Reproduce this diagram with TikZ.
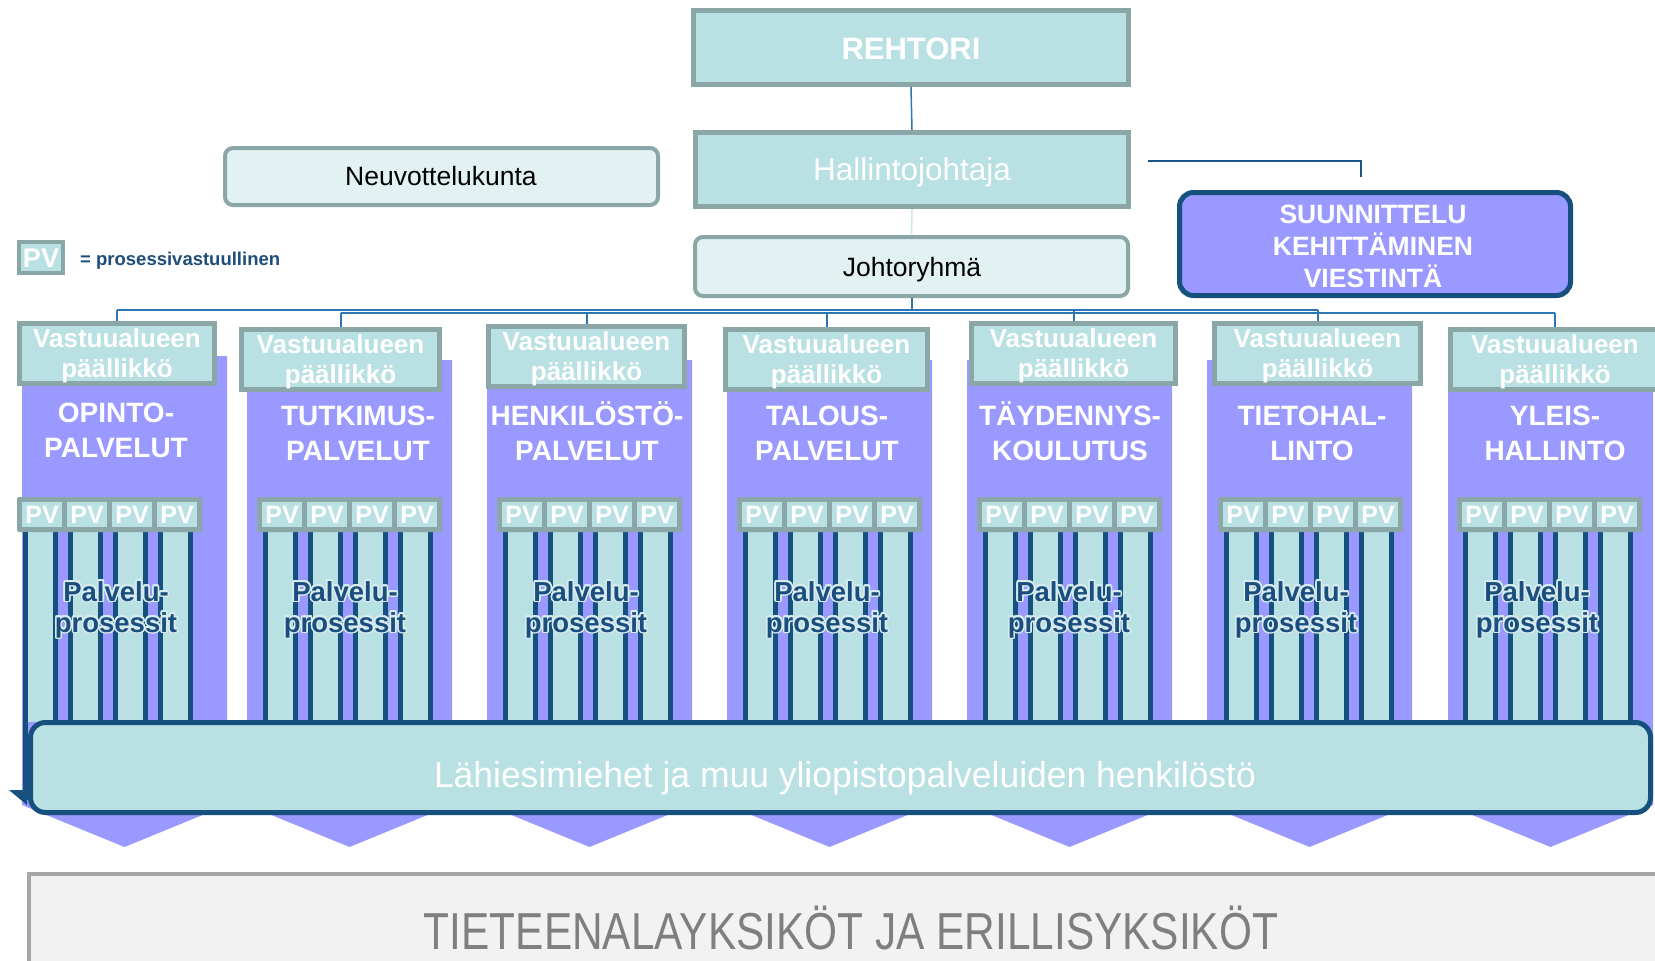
\documentclass[tikz,border=0pt]{standalone}
\usepackage{fontspec}
\usepackage[copies]{contour}
\setmainfont{Liberation Sans}
\definecolor{tealf}{HTML}{B9E0E3}
\definecolor{greyt}{HTML}{8AA6A7}
\definecolor{lightf}{HTML}{E2F2F2}
\definecolor{purp}{HTML}{9999FF}
\definecolor{dblue}{HTML}{16507F}
\definecolor{busb}{HTML}{2E75B6}
\definecolor{legb}{HTML}{1F4E79}
\definecolor{txtb}{HTML}{1B4E7E}
\definecolor{glowc}{HTML}{D6ECEE}
\definecolor{unitf}{HTML}{F2F2F2}
\definecolor{unitd}{HTML}{A6A6A6}
\definecolor{unitt}{HTML}{7F7F7F}
\contourlength{1.6pt}
\contournumber{16}
\newcommand\fsz[1]{\fontsize{#1}{#1}\selectfont}
\begin{document}
\begin{tikzpicture}[x=1pt,y=-1pt,
  tealbox/.style={draw=greyt, fill=tealf, line width=5pt, inner sep=0pt},
  lightbox/.style={draw=greyt, fill=lightf, line width=4pt, rounded corners=8pt, inner sep=0pt},
  txt/.style={anchor=base, inner sep=0pt},
  bus/.style={draw=busb, line width=2pt},
  pvcell/.style={fill=tealf, minimum width=40pt, minimum height=25pt, inner sep=0pt, text=white, font=\fsz{25}\bfseries},
  proc/.style={anchor=base, inner sep=0pt, text=txtb, font=\fsz{27.5}\bfseries}
]
\clip (0,0) rectangle (1655,961);
\fill[white] (0,0) rectangle (1655,961);

% ---------- top boxes ----------
\node[tealbox, minimum width=435pt, minimum height=74pt] (rehtori) at (911,47.5) {};
\node[txt, text=white, font=\fsz{31}\bfseries] (rehtoriT) at (911,59) {REHTORI};
\node[tealbox, minimum width=433pt, minimum height=74pt] (hj) at (912,169.5) {};
\node[txt, text=white, font=\fsz{31.5}] (hjT) at (912,180) {Hallintojohtaja};
\node[lightbox, minimum width=433pt, minimum height=57pt] (neuv) at (441.5,176.5) {};
\node[txt, text=black, font=\fsz{26.5}] (neuvT) at (441,185) {Neuvottelukunta};
\node[lightbox, minimum width=433pt, minimum height=59pt] (jr) at (911.5,266.5) {};
\node[txt, text=black, font=\fsz{26.5}] (jrT) at (912,276) {Johtoryhmä};
\node[draw=dblue, fill=purp, line width=5pt, rounded corners=14pt, minimum width=391pt, minimum height=103pt, inner sep=0pt] (suun) at (1375,244) {};
\node[txt, text=white, font=\fsz{26.5}\bfseries] (suun1) at (1373,223) {SUUNNITTELU};
\node[txt, text=white, font=\fsz{26.5}\bfseries] (suun2) at (1373,255) {KEHITTÄMINEN};
\node[txt, text=white, font=\fsz{26.5}\bfseries] (suun3) at (1373,287) {VIESTINTÄ};

% legend
\node[tealbox, line width=4pt, minimum width=44pt, minimum height=31pt] (pvl) at (41,257.5) {};
\node[txt, text=white, font=\fsz{27}\bfseries] (pvlT) at (41,267) {PV};
\node[anchor=base west, inner sep=0pt, text=legb, font=\fsz{18.5}\bfseries] (legT) at (80,265) {= prosessivastuullinen};

% connectors at top
\draw[busb, line width=1.5pt] (rehtori.south) -- (hj.north);
\draw[draw=tealf!70!white, line width=1.5pt] (hj.south) -- (jr.north);
\coordinate (s1) at (1148,161);
\coordinate (s2) at (1361,177);
\draw[dblue!85!busb, line width=2pt] (s1) -| (s2);

% ---------- columns ----------
\foreach \i/\L/\pt/\ha/\hb/\hy/\tx/\tby/\S/\px/\ta/\tb in {
 1/22/356/17/217/321/116/422/17/116/OPINTO-/PALVELUT,
 2/247/360/239/442/327/358/425/257/345/TUTKIMUS-/PALVELUT,
 3/487/360/486/687/324/587/425/497/586/HENKILÖSTÖ-/PALVELUT,
 4/727/360/723/930/327/827/425/737/827/TALOUS-/PALVELUT,
 5/967/360/969/1178/321/1070/425/977/1069/TÄYDENNYS-/KOULUTUS,
 6/1207/360/1212/1423/321/1312/425/1218/1296/TIETOHAL-/LINTO,
 7/1448/360/1448/1662/327/1555/425/1457/1537/YLEIS-/HALLINTO}
{
  % purple column with arrow end
  \fill[purp] (\L,\pt) -- ({\L+205},\pt) -- ({\L+205},805) -- ({\L+102.5},847) -- (\L,805) -- cycle;
  % process bars
  \foreach \j in {0,1,2,3} {
    \fill[tealf] ({\S+6+45*\j},532) rectangle ({\S+41+45*\j},722);
    \draw[dblue, line width=4.5pt] ({\S+8.5+45*\j},532) -- ({\S+8.5+45*\j},722);
    \draw[dblue, line width=4.5pt] ({\S+38.5+45*\j},532) -- ({\S+38.5+45*\j},722);
  }
  % PV strip
  \fill[greyt, rounded corners=2pt] (\S,497) rectangle ({\S+185},532);
  \foreach \j in {0,1,2,3} {
    \node[pvcell] (pv\i-\j) at ({\S+25+45*\j},514.5) {PV};
  }
  % header box
  \node[tealbox, minimum width={\hb-\ha-5}, minimum height=60pt] (h\i) at ({(\ha+\hb)/2},{\hy+32.5}) {};
  \node[txt, text=white, font=\fsz{26}\bfseries] (hA\i) at ({(\ha+\hb)/2},{\hy+26}) {Vastuualueen};
  \node[txt, text=white, font=\fsz{26}\bfseries] (hB\i) at ({(\ha+\hb)/2},{\hy+56}) {päällikkö};
  % title
  \node[txt, text=white, font=\fsz{28}\bfseries] (tA\i) at (\tx,\tby) {\ta};
  \node[txt, text=white, font=\fsz{28}\bfseries] (tB\i) at (\tx,{\tby+35}) {\tb};
  % Palvelu-prosessit with light halo
  \node[proc] (pA\i) at (\px,601) {\contour{glowc}{Palvelu-}};
  \node[proc] (pB\i) at (\px,632) {\contour{glowc}{prosessit}};
}

% ---------- bus lines ----------
\coordinate (jb) at (911.5,310);
\coordinate (b1) at (117,310);
\coordinate (b5) at (1073.5,310);
\coordinate (b6) at (1317.5,310);
\coordinate (c2) at (340.5,313);
\coordinate (c3) at (586.5,313);
\coordinate (c4) at (826.5,313);
\coordinate (c7) at (1555,313);
\draw[bus] (jr.south) -- (jb);
\draw[bus] (b1) -- (b6);
\draw[bus] (c2) -- (c7);
\draw[bus] (b1) -- (h1.north);
\draw[bus] (c2) -- (h2.north);
\draw[bus] (c3) -- (h3.north);
\draw[bus] (c4) -- (h4.north);
\draw[bus] (b5) -- (h5.north);
\draw[bus] (b6) -- (h6.north);
\draw[bus] (c7) -- (h7.north);

% ---------- staff bar ----------
\draw[dblue, line width=5pt] (25,532) -- (25,800);
\fill[dblue] (9,790) -- (27,790) -- (27,805) -- cycle;
\node[draw=dblue, fill=tealf, line width=5pt, rounded corners=15pt, minimum width=1620pt, minimum height=90pt, inner sep=0pt] (bar) at (840.5,767.5) {};
\node[txt, text=white, font=\fsz{36}] (barT) at (845,787) {\scalebox{0.985}[1]{Lähiesimiehet ja muu yliopistopalveluiden henkilöstö}};

% ---------- units box ----------
\node[draw=unitd, fill=unitf, line width=4pt, minimum width=1649pt, minimum height=114pt, inner sep=0pt] (units) at (853.5,931) {};
\node[txt, text=unitt, font=\fsz{52}] (unitsT) at (851,949) {\scalebox{0.815}[1]{TIETEENALAYKSIKÖT JA ERILLISYKSIKÖT}};
\end{tikzpicture}
\end{document}
